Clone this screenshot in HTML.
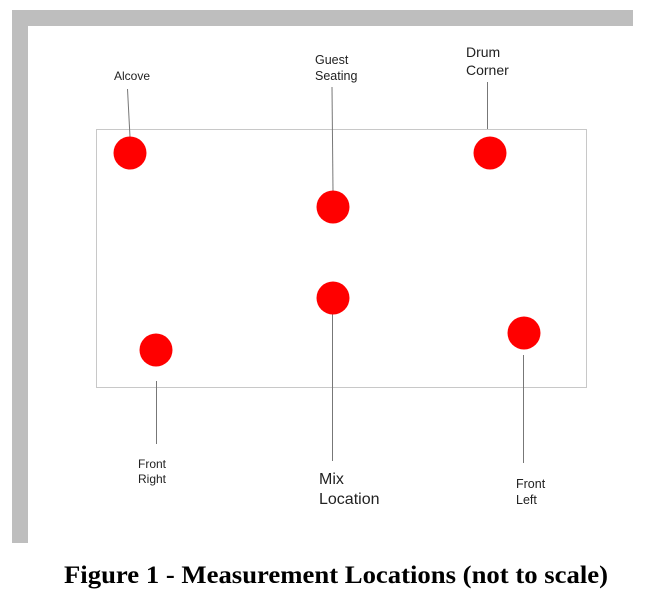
<!DOCTYPE html>
<html><head><meta charset="utf-8"><style>
html,body{margin:0;padding:0;background:#fff;width:645px;height:600px;overflow:hidden}
</style></head><body>
<svg width="645" height="600" xmlns="http://www.w3.org/2000/svg" style="position:absolute;left:0;top:0">
<rect x="12" y="10" width="621" height="16" fill="#bebebe"/>
<rect x="12" y="10" width="16" height="533" fill="#bebebe"/>
<rect x="96.5" y="129.5" width="490" height="258" fill="none" stroke="#c8c8c8" stroke-width="1"/>
<g stroke="#777" stroke-width="1">
<line x1="127.5" y1="89" x2="130" y2="137"/>
<line x1="332" y1="87" x2="333" y2="191"/>
<line x1="487.5" y1="82" x2="487.5" y2="129"/>
<line x1="332.5" y1="314" x2="332.5" y2="461"/>
<line x1="156.5" y1="381" x2="156.5" y2="444"/>
<line x1="523.5" y1="355" x2="523.5" y2="463"/>
</g>
<g fill="#ff0000">
<circle cx="130" cy="153" r="16.5"/>
<circle cx="490" cy="153" r="16.5"/>
<circle cx="333" cy="207" r="16.5"/>
<circle cx="333" cy="298" r="16.5"/>
<circle cx="156" cy="350" r="16.5"/>
<circle cx="524" cy="333" r="16.5"/>
</g>
<g font-family="Liberation Sans, sans-serif" fill="#222">
<text x="114" y="80" font-size="12">Alcove</text>
<text x="315" y="64" font-size="12.5">Guest</text>
<text x="315" y="80" font-size="12.5">Seating</text>
<text x="466" y="57" font-size="14">Drum</text>
<text x="466" y="75" font-size="14">Corner</text>
<text x="138" y="468" font-size="12">Front</text>
<text x="138" y="483" font-size="12">Right</text>
<text x="319" y="484" font-size="16">Mix</text>
<text x="319" y="504" font-size="16">Location</text>
<text x="516" y="488" font-size="12.5">Front</text>
<text x="516" y="504" font-size="12.5">Left</text>
</g>
<text x="64" y="583" textLength="544" lengthAdjust="spacingAndGlyphs" font-family="Liberation Serif, serif" font-weight="bold" font-size="25" fill="#000">Figure 1 - Measurement Locations (not to scale)</text>
</svg>
</body></html>
